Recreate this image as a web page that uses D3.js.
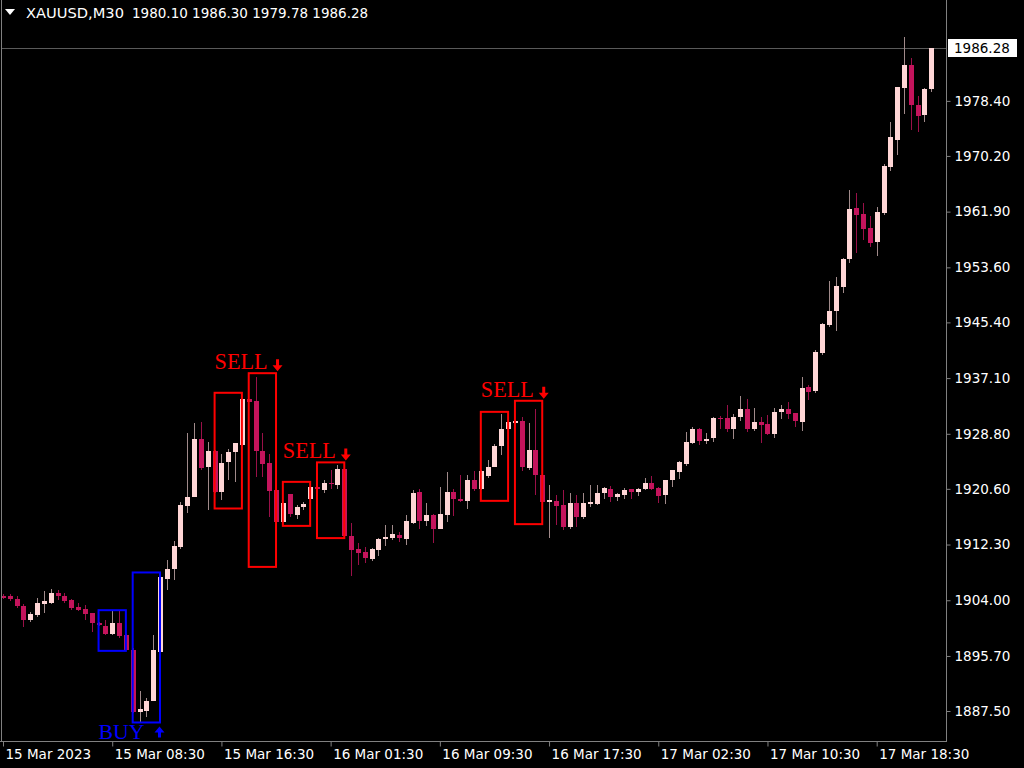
<!DOCTYPE html>
<html><head><meta charset="utf-8">
<script src="https://cdn.jsdelivr.net/npm/d3@7"></script>
<style>html,body{margin:0;padding:0;background:#000;overflow:hidden}</style>
</head><body><svg id="c" width="1024" height="768"></svg>
<script>
// ---- data (XAUUSD M30) ----
const opens=[1904.68,1904.65,1904.26,1903.12,1901.13,1901.77,1903.41,1903.61,1905.01,1904.65,1904.01,1903.01,1902.77,1902.03,1900.63,1900.18,1899.04,1900.63,1898.79,1896.66,1887.28,1887.52,1889.01,1896.31,1907.24,1908.59,1911.96,1918.02,1919.32,1927.96,1923.88,1926.27,1920.13,1924.59,1926.12,1927.11,1933.92,1933.67,1926.22,1924.44,1920.41,1915.68,1919.81,1916.77,1917.91,1919.16,1920.90,1920.41,1921.40,1921.10,1923.49,1913.55,1911.57,1911.16,1910.22,1911.46,1913.17,1913.32,1913.67,1913.17,1915.58,1920.13,1915.83,1916.77,1914.69,1916.77,1920.13,1919.16,1918.81,1921.99,1920.51,1922.58,1923.83,1927.01,1929.50,1930.40,1930.73,1923.64,1926.37,1922.63,1918.57,1918.76,1918.16,1914.93,1918.42,1916.33,1918.31,1918.31,1919.92,1920.55,1919.32,1919.66,1920.51,1920.13,1920.51,1921.40,1920.70,1919.66,1921.89,1923.14,1924.28,1927.46,1929.45,1927.76,1928.11,1931.18,1931.09,1929.50,1931.23,1932.48,1929.50,1930.59,1930.24,1928.75,1932.07,1932.48,1931.83,1930.59,1935.71,1935.16,1940.79,1944.99,1947.08,1950.71,1954.78,1962.38,1961.53,1959.50,1957.31,1961.72,1968.49,1972.57,1980.36,1983.74,1977.78,1976.29,1980.10];
const highs=[1904.90,1904.86,1904.61,1903.41,1902.18,1904.41,1905.35,1905.75,1905.50,1905.10,1904.26,1903.61,1903.26,1902.12,1900.73,1901.03,1902.37,1902.37,1898.94,1896.85,1890.45,1889.45,1898.79,1907.73,1909.97,1912.81,1918.66,1928.86,1930.44,1930.50,1927.61,1926.40,1925.84,1926.47,1927.37,1934.00,1934.00,1937.20,1928.85,1925.84,1920.50,1918.50,1919.81,1918.16,1918.57,1920.90,1921.00,1921.99,1923.38,1924.13,1923.60,1915.49,1912.46,1911.96,1911.81,1913.32,1915.19,1915.19,1914.16,1916.67,1920.41,1920.51,1918.51,1916.82,1920.81,1923.14,1920.51,1922.70,1922.70,1923.19,1923.40,1924.92,1927.26,1931.68,1930.60,1930.80,1931.23,1930.44,1932.48,1922.70,1921.10,1919.66,1920.41,1920.04,1919.66,1919.92,1921.10,1921.20,1920.81,1921.00,1920.01,1920.66,1920.51,1920.75,1922.23,1922.49,1920.81,1921.99,1923.38,1924.73,1929.01,1929.84,1929.60,1928.95,1931.23,1931.43,1933.07,1931.68,1934.42,1933.92,1932.58,1931.23,1931.58,1932.58,1933.07,1933.57,1931.92,1937.24,1936.06,1941.27,1945.30,1951.60,1952.19,1955.02,1965.11,1964.71,1963.22,1961.23,1962.53,1968.99,1975.29,1980.42,1987.87,1984.74,1979.17,1980.27,1986.30];
const lows=[1904.16,1903.91,1902.86,1900.03,1900.78,1901.52,1902.12,1903.41,1904.11,1903.52,1902.52,1902.37,1901.13,1899.29,1900.14,1898.79,1898.79,1898.44,1896.56,1887.25,1885.88,1886.62,1888.95,1896.26,1905.50,1906.99,1911.57,1917.02,1919.32,1923.39,1917.42,1920.00,1918.91,1921.89,1921.64,1927.00,1933.50,1922.38,1922.38,1916.42,1915.60,1915.60,1916.42,1916.18,1917.52,1919.10,1920.40,1920.04,1920.51,1920.51,1913.50,1907.59,1909.23,1909.53,1909.87,1910.61,1912.06,1912.95,1912.70,1912.21,1915.43,1914.59,1915.04,1912.46,1914.69,1915.68,1916.52,1918.66,1917.67,1920.26,1920.40,1922.23,1923.80,1925.62,1929.40,1930.30,1923.29,1923.39,1919.66,1918.50,1913.32,1915.19,1914.44,1914.69,1914.93,1916.18,1917.82,1918.16,1919.06,1918.57,1918.81,1919.06,1919.16,1919.52,1920.41,1920.41,1918.42,1918.31,1920.81,1922.14,1924.03,1927.22,1927.11,1927.26,1927.61,1929.50,1929.10,1927.96,1930.73,1929.10,1929.15,1927.37,1928.60,1928.11,1930.94,1931.00,1929.84,1929.29,1933.82,1934.91,1940.60,1944.74,1944.14,1949.81,1954.28,1955.68,1957.66,1956.57,1955.28,1961.38,1967.99,1970.33,1976.40,1974.06,1973.80,1975.29,1979.78];
const closes=[1904.38,1904.16,1903.12,1901.13,1901.88,1903.61,1903.91,1905.01,1904.65,1903.91,1902.92,1902.62,1901.92,1900.54,1900.24,1899.04,1900.54,1898.64,1896.56,1887.37,1887.77,1889.01,1896.56,1907.48,1908.73,1912.06,1918.16,1919.41,1927.96,1923.64,1926.22,1920.13,1924.44,1926.12,1927.37,1933.92,1933.57,1926.22,1924.35,1920.27,1915.68,1918.42,1916.82,1917.91,1918.31,1920.81,1920.51,1921.40,1921.25,1923.49,1913.55,1911.46,1911.06,1910.31,1911.57,1913.17,1913.42,1913.82,1913.26,1915.78,1920.04,1915.83,1916.77,1914.59,1916.92,1920.13,1919.06,1918.81,1921.99,1920.51,1923.29,1923.83,1927.01,1929.45,1930.49,1930.73,1923.83,1926.37,1922.63,1918.57,1918.91,1918.06,1914.93,1918.42,1916.33,1918.42,1918.57,1919.92,1920.66,1919.41,1919.81,1920.41,1920.13,1920.55,1921.49,1920.55,1919.55,1921.99,1923.38,1924.54,1927.52,1929.45,1927.76,1928.01,1931.09,1930.99,1929.50,1931.33,1932.48,1929.50,1930.49,1930.09,1928.75,1932.07,1932.43,1931.73,1930.73,1935.56,1935.05,1940.93,1945.14,1947.13,1950.81,1954.78,1962.23,1961.38,1959.30,1957.17,1961.88,1968.69,1972.97,1980.42,1983.74,1977.78,1976.19,1980.17,1986.28];

const timeLabels=["15 Mar 2023","15 Mar 08:30","15 Mar 16:30","16 Mar 01:30","16 Mar 09:30","16 Mar 17:30","17 Mar 02:30","17 Mar 10:30","17 Mar 18:30"];
const timeLabelIdx=[0,16,32,48,64,80,96,112,128];
const priceTicks=[1887.50,1895.70,1904.00,1912.30,1920.60,1928.80,1937.10,1945.40,1953.60,1961.90,1970.20,1978.40];
const lastPrice=1986.28;
const symbolTitle="XAUUSD,M30";
const ohlcTitle="1980.10 1986.30 1979.78 1986.28";

// signal boxes
const boxStart=[14,19,31,36,41,46,70,75];
const boxEnd=[18,23,35,40,45,50,74,79];
const boxTop=[1902.52,1908.14,1934.91,1937.83,1921.64,1924.54,1932.07,1933.72];
const boxBottom=[1896.46,1885.79,1917.67,1908.97,1915.08,1913.26,1918.81,1915.34];
const boxType=["BUY","BUY","SELL","SELL","SELL","SELL","SELL","SELL"];

// signal labels
const sigText=["BUY","SELL","SELL","SELL"];
const sigLeft=[14,31,41,70];
const sigRight=[23,40,50,79];
const sigPrice=[1885.79,1937.83,1924.54,1933.72];

// ---- drawing ----
const W=1024,H=768, plotR=946, plotB=741;
const svg=d3.select("#c");
svg.append("rect").attr("width",W).attr("height",H).attr("fill","#000");
const x=d3.scaleLinear().domain([0,opens.length-1]).range([3,931.3]);
const y=d3.scaleLinear().domain([1887.5,1986.28]).range([711,48]);

svg.append("defs").append("clipPath").attr("id","plot")
  .append("rect").attr("x",1).attr("y",1).attr("width",plotR-1).attr("height",plotB-1);
const g=svg.append("g").attr("clip-path","url(#plot)");

const bullBody="#ffd6d6", bearBody="#c4145c", bullWick="#a08a8a", bearWick="#9a1048";
const idx=d3.range(opens.length);

// current price line
g.append("line").attr("x1",0).attr("x2",plotR).attr("y1",Math.round(y(lastPrice))+0.5).attr("y2",Math.round(y(lastPrice))+0.5)
 .attr("stroke","#5a5a5a").attr("stroke-width",1);

const c=g.append("g").attr("shape-rendering","crispEdges");
c.selectAll("line.w").data(idx).join("line").attr("class","w")
  .attr("x1",i=>Math.round(x(i))+0.5).attr("x2",i=>Math.round(x(i))+0.5)
  .attr("y1",i=>y(highs[i])).attr("y2",i=>y(lows[i]))
  .attr("stroke",i=>closes[i]>=opens[i]?bullWick:bearWick).attr("stroke-width",1);
c.selectAll("rect.b").data(idx).join("rect").attr("class","b")
  .attr("x",i=>Math.round(x(i))-2).attr("width",5)
  .attr("y",i=>y(Math.max(opens[i],closes[i])))
  .attr("height",i=>Math.max(1,Math.abs(y(opens[i])-y(closes[i]))))
  .attr("fill",i=>closes[i]>=opens[i]?bullBody:bearBody);

// boxes
g.selectAll("rect.box").data(boxStart).join("rect").attr("class","box")
  .attr("x",(d,k)=>x(boxStart[k])).attr("width",(d,k)=>x(boxEnd[k])-x(boxStart[k]))
  .attr("y",(d,k)=>y(boxTop[k])).attr("height",(d,k)=>y(boxBottom[k])-y(boxTop[k]))
  .attr("fill","none").attr("stroke",(d,k)=>boxType[k]==="BUY"?"#0000ff":"#ff0000").attr("stroke-width",2);

// signal labels + arrows
sigText.forEach((t,k)=>{
  const col=t==="BUY"?"#0000ff":"#ff0000";
  const py=y(sigPrice[k]);
  const lx=x(sigLeft[k]), ax=x(sigRight[k])+(t==="BUY"?-0.5:1.5);
  const isBuy=t==="BUY";
  g.append("text").attr("x",lx).attr("y",isBuy?py+17:py-4)
   .attr("fill",col).attr("font-family","'Liberation Serif','Times New Roman',serif")
   .attr("font-size",isBuy?21:24).attr("textLength",isBuy?46:53).attr("lengthAdjust","spacingAndGlyphs").text(t);
  let p;
  if(!isBuy){
    const b=py-2, tp=b-12;
    p=`M${ax-1.5},${tp}L${ax+1.5},${tp}L${ax+1.5},${b-6}L${ax+5},${b-6}L${ax},${b}L${ax-5},${b-6}L${ax-1.5},${b-6}Z`;
  } else {
    const tp=py+4, b=tp+11;
    p=`M${ax-1.5},${b}L${ax+1.5},${b}L${ax+1.5},${tp+6}L${ax+5},${tp+6}L${ax},${tp}L${ax-5},${tp+6}L${ax-1.5},${tp+6}Z`;
  }
  g.append("path").attr("d",p).attr("fill",col);
});

// frame lines
svg.append("line").attr("x1",1.5).attr("x2",1.5).attr("y1",0).attr("y2",plotB).attr("stroke","#808080");
svg.append("line").attr("x1",0).attr("x2",plotR).attr("y1",plotB+0.5).attr("y2",plotB+0.5).attr("stroke","#808080");
svg.append("line").attr("x1",plotR+0.5).attr("x2",plotR+0.5).attr("y1",0).attr("y2",plotB+1).attr("stroke","#808080");

// price axis
const ya=svg.append("g").attr("transform",`translate(${plotR+0.5},0)`)
  .call(d3.axisRight(y).tickValues(priceTicks).tickFormat(d3.format(".2f")).tickSize(4).tickPadding(4));
ya.select(".domain").remove();
ya.selectAll("line").attr("stroke","#808080");
ya.selectAll("text").attr("fill","#fff").attr("font-family","'DejaVu Sans',sans-serif").attr("font-size",13.5);

// last price label
const ly=y(lastPrice);
svg.append("rect").attr("x",plotR+2).attr("y",ly-9).attr("width",69).attr("height",18).attr("fill","#fff");
svg.append("text").attr("x",plotR+8).attr("y",ly).attr("dy","0.35em").attr("fill","#000")
  .attr("font-family","'DejaVu Sans',sans-serif").attr("font-size",13.5).text(d3.format(".2f")(lastPrice));

// time axis
const xa=svg.append("g").attr("transform",`translate(0,${plotB+0.5})`)
  .call(d3.axisBottom(x).tickValues(timeLabelIdx).tickFormat((d,k)=>timeLabels[k]).tickSize(5).tickPadding(3));
xa.select(".domain").remove();
xa.selectAll("line").attr("stroke","#808080");
xa.selectAll("text").attr("fill","#fff").attr("text-anchor","start").attr("dx",2)
  .attr("font-family","'DejaVu Sans',sans-serif").attr("font-size",13.5);

// header
svg.append("path").attr("d","M5,9L15,9L10,15Z").attr("fill","#fff");
svg.append("text").attr("x",26).attr("y",18).attr("fill","#fff").attr("font-family","'DejaVu Sans',sans-serif")
  .attr("font-size",13.5).attr("textLength",98).attr("lengthAdjust","spacingAndGlyphs").text(symbolTitle);
svg.append("text").attr("x",132).attr("y",18).attr("fill","#fff").attr("font-family","'DejaVu Sans',sans-serif")
  .attr("font-size",13.5).text(ohlcTitle);
</script></body></html>
